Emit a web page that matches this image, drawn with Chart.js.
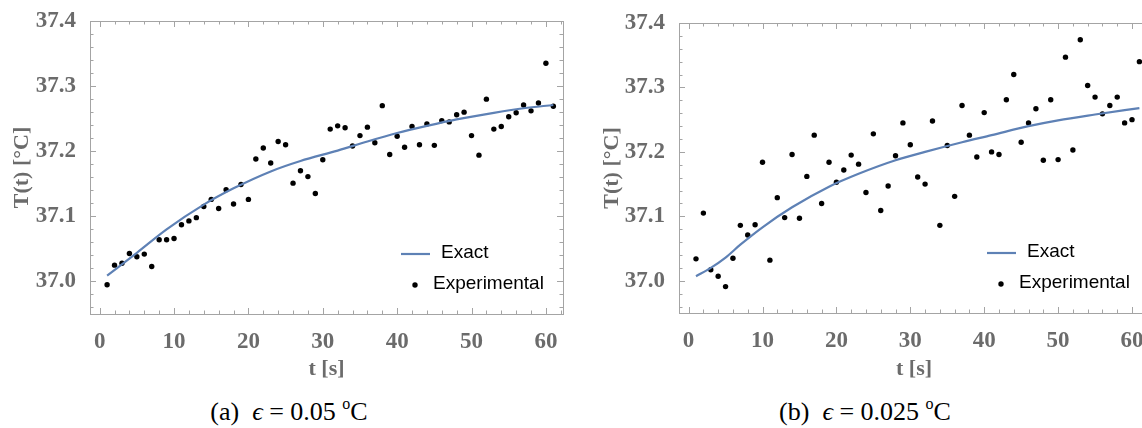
<!DOCTYPE html>
<html>
<head>
<meta charset="utf-8">
<script src="https://cdn.jsdelivr.net/npm/chart.js@4.4.1/dist/chart.umd.min.js"></script>
<style>
  html, body { margin: 0; padding: 0; background: #fff; overflow: hidden; }
  #page { position: relative; width: 1142px; height: 428px; overflow: hidden; }
  canvas { position: absolute; top: 0; }
  #chartA { left: 0; }
  #chartB { left: 590px; }
  .caption { position: absolute; top: 397px; width: 400px; height: 30px; line-height: 30px; text-align: center;
    font-family: 'Liberation Serif', 'Times New Roman', serif; font-size: 26px; color: #000; }
  .caption sup { font-size: 16px; line-height: 0; vertical-align: baseline; position: relative; top: -0.7em; }
</style>
</head>
<body>
<div id="page">
  <canvas id="chartA" width="580" height="395"></canvas>
  <canvas id="chartB" width="590" height="395"></canvas>
  <div class="caption" style="left: 89px">(a)&nbsp; <i>ϵ</i> = 0.05 <sup>o</sup>C</div>
  <div class="caption" style="left: 665px">(b)&nbsp; <i>ϵ</i> = 0.025 <sup>o</sup>C</div>
</div>
<script>
// measurement times (s)
const times = [1, 2, 3, 4, 5, 6, 7, 8, 9, 10, 11, 12, 13, 14, 15, 16, 17, 18, 19, 20,
  21, 22, 23, 24, 25, 26, 27, 28, 29, 30, 31, 32, 33, 34, 35, 36, 37, 38, 39, 40,
  41, 42, 43, 44, 45, 46, 47, 48, 49, 50, 51, 52, 53, 54, 55, 56, 57, 58, 59, 60, 61];

// (a) eps = 0.05
const measuredA = [36.995, 37.025, 37.028, 37.043, 37.038, 37.042, 37.023, 37.064, 37.064, 37.066,
  37.087, 37.093, 37.098, 37.115, 37.126, 37.112, 37.141, 37.119, 37.149, 37.126,
  37.188, 37.205, 37.182, 37.215, 37.210, 37.151, 37.170, 37.161, 37.135, 37.187,
  37.234, 37.239, 37.236, 37.208, 37.224, 37.237, 37.213, 37.270, 37.195, 37.223,
  37.206, 37.238, 37.210, 37.242, 37.209, 37.247, 37.245, 37.256, 37.260, 37.224,
  37.194, 37.280, 37.234, 37.238, 37.253, 37.259, 37.271, 37.262, 37.274, 37.335, 37.269];
const exactTimesA = [1, 5, 9, 14, 18, 23, 27, 32, 36, 40, 44, 48, 53, 57, 61];
const exactA = [37.009, 37.044, 37.080, 37.118, 37.143, 37.169, 37.185, 37.201, 37.215,
  37.228, 37.239, 37.249, 37.259, 37.266, 37.271];

// (b) eps = 0.025
const measuredB = [37.034, 37.105, 37.017, 37.007, 36.991, 37.035, 37.086, 37.071, 37.087, 37.184,
  37.032, 37.129, 37.098, 37.196, 37.097, 37.162, 37.226, 37.120, 37.184, 37.153,
  37.172, 37.195, 37.181, 37.137, 37.228, 37.109, 37.147, 37.194, 37.245, 37.211,
  37.161, 37.150, 37.248, 37.086, 37.210, 37.131, 37.272, 37.226, 37.192, 37.261,
  37.200, 37.196, 37.281, 37.320, 37.215, 37.245, 37.267, 37.187, 37.281, 37.188,
  37.347, 37.203, 37.374, 37.303, 37.285, 37.259, 37.272, 37.285, 37.245, 37.250, 37.340];
const exactTimesB = [1, 3, 5, 7, 10, 14, 19, 23, 28, 32, 37, 41, 46, 50, 55, 61];
const exactB = [37.007, 37.020, 37.036, 37.056, 37.083, 37.114, 37.146, 37.166, 37.187,
  37.200, 37.215, 37.226, 37.240, 37.249, 37.258, 37.268];

const xTicks = [0, 10, 20, 30, 40, 50, 60];
const yTicks = [37.0, 37.1, 37.2, 37.3, 37.4];

const grey = '#6b6b6b';
const frameGrey = '#a4a4a4';
const blue = '#5e81b5';
const serifBold = { family: "'Liberation Serif', 'Times New Roman', serif", weight: 'bold', size: 23 };
const titleFont = { family: "'Liberation Serif', 'Times New Roman', serif", weight: 'bold', size: 22 };

// Mathematica-like frame with inward ticks + legend inside the plot
const framePlugin = {
  id: 'frame',
  afterDraw(chart) {
    const { ctx, chartArea: a, scales: { x, y } } = chart;
    ctx.save();
    ctx.strokeStyle = frameGrey;
    ctx.lineWidth = 1;
    ctx.strokeRect(Math.round(a.left) + 0.5, Math.round(a.top) + 0.5,
      Math.round(a.right - a.left), Math.round(a.bottom - a.top));
    ctx.beginPath();
    for (let i = Math.ceil(x.min / 2); i * 2 <= x.max; i++) {
      const len = i % 5 === 0 ? 6 : 3.5;
      const px = Math.round(x.getPixelForValue(i * 2)) + 0.5;
      ctx.moveTo(px, a.bottom); ctx.lineTo(px, a.bottom - len);
      ctx.moveTo(px, a.top); ctx.lineTo(px, a.top + len);
    }
    for (let i = Math.ceil(y.min / 0.02 - 1e-6); i * 0.02 <= y.max + 1e-9; i++) {
      const len = i % 5 === 0 ? 6 : 3.5;
      const py = Math.round(y.getPixelForValue(i * 0.02)) + 0.5;
      ctx.moveTo(a.left, py); ctx.lineTo(a.left + len, py);
      ctx.moveTo(a.right, py); ctx.lineTo(a.right - len, py);
    }
    ctx.stroke();

    // legend
    const [exact, expm] = chart.data.datasets;
    const r1 = a.bottom - 61, r2 = a.bottom - 30;
    ctx.strokeStyle = exact.borderColor;
    ctx.lineWidth = exact.borderWidth;
    ctx.beginPath();
    ctx.moveTo(a.right - 162, r1 + 1); ctx.lineTo(a.right - 133, r1 + 1);
    ctx.stroke();
    ctx.fillStyle = expm.backgroundColor;
    ctx.beginPath();
    ctx.arc(a.right - 148, r2 + 1, expm.pointRadius, 0, Math.PI * 2);
    ctx.fill();
    ctx.fillStyle = '#000';
    ctx.font = "19px 'Liberation Sans', Arial, sans-serif";
    ctx.textBaseline = 'middle';
    ctx.fillText(exact.label, a.right - 122, r1);
    ctx.fillText(expm.label, a.right - 130, r2);
    ctx.restore();
  }
};

function makeChart(id, measured, exactT, exactV, box) {
  return new Chart(document.getElementById(id), {
    type: 'scatter',
    data: {
      datasets: [{
        label: 'Exact',
        data: exactT.map((t, i) => ({ x: t, y: exactV[i] })),
        showLine: true,
        borderColor: blue,
        borderWidth: 2.2,
        pointRadius: 0,
        cubicInterpolationMode: 'monotone'
      }, {
        label: 'Experimental',
        data: times.map((t, i) => ({ x: t, y: measured[i] })),
        backgroundColor: '#000',
        borderWidth: 0,
        pointRadius: 2.7,
        pointHoverRadius: 2.7
      }]
    },
    options: {
      responsive: false,
      animation: false,
      layout: { padding: { top: box.top, right: box.right, left: 0, bottom: 0 } },
      plugins: { legend: { display: false }, tooltip: { enabled: false } },
      scales: {
        x: {
          type: 'linear', min: -1.3, max: 62.3,
          grid: { display: false }, border: { display: false },
          afterBuildTicks: s => { s.ticks = xTicks.map(v => ({ value: v })); },
          afterFit: s => { s.height = box.xAxisH; },
          ticks: { padding: 6, color: grey, font: serifBold, maxRotation: 0, autoSkip: false },
          title: { display: true, text: 't [s]', color: grey, font: titleFont, padding: { top: 0, bottom: 12 } }
        },
        y: {
          type: 'linear', min: 36.95, max: 37.4,
          grid: { display: false }, border: { display: false },
          afterBuildTicks: s => { s.ticks = yTicks.map(v => ({ value: v })); },
          afterFit: s => { s.width = box.yAxisW; },
          ticks: { padding: 6, color: grey, font: serifBold, callback: v => v.toFixed(1) },
          title: { display: true, text: 'T(t) [°C]', color: grey, font: titleFont, padding: { top: 9, bottom: 0 } }
        }
      }
    },
    plugins: [framePlugin]
  });
}

makeChart('chartA', measuredA, exactTimesA, exactA, { top: 21, right: 17, xAxisH: 81, yAxisW: 90 });
makeChart('chartB', measuredB, exactTimesB, exactB, { top: 23, right: 31, xAxisH: 82, yAxisW: 89 });
</script>
</body>
</html>
